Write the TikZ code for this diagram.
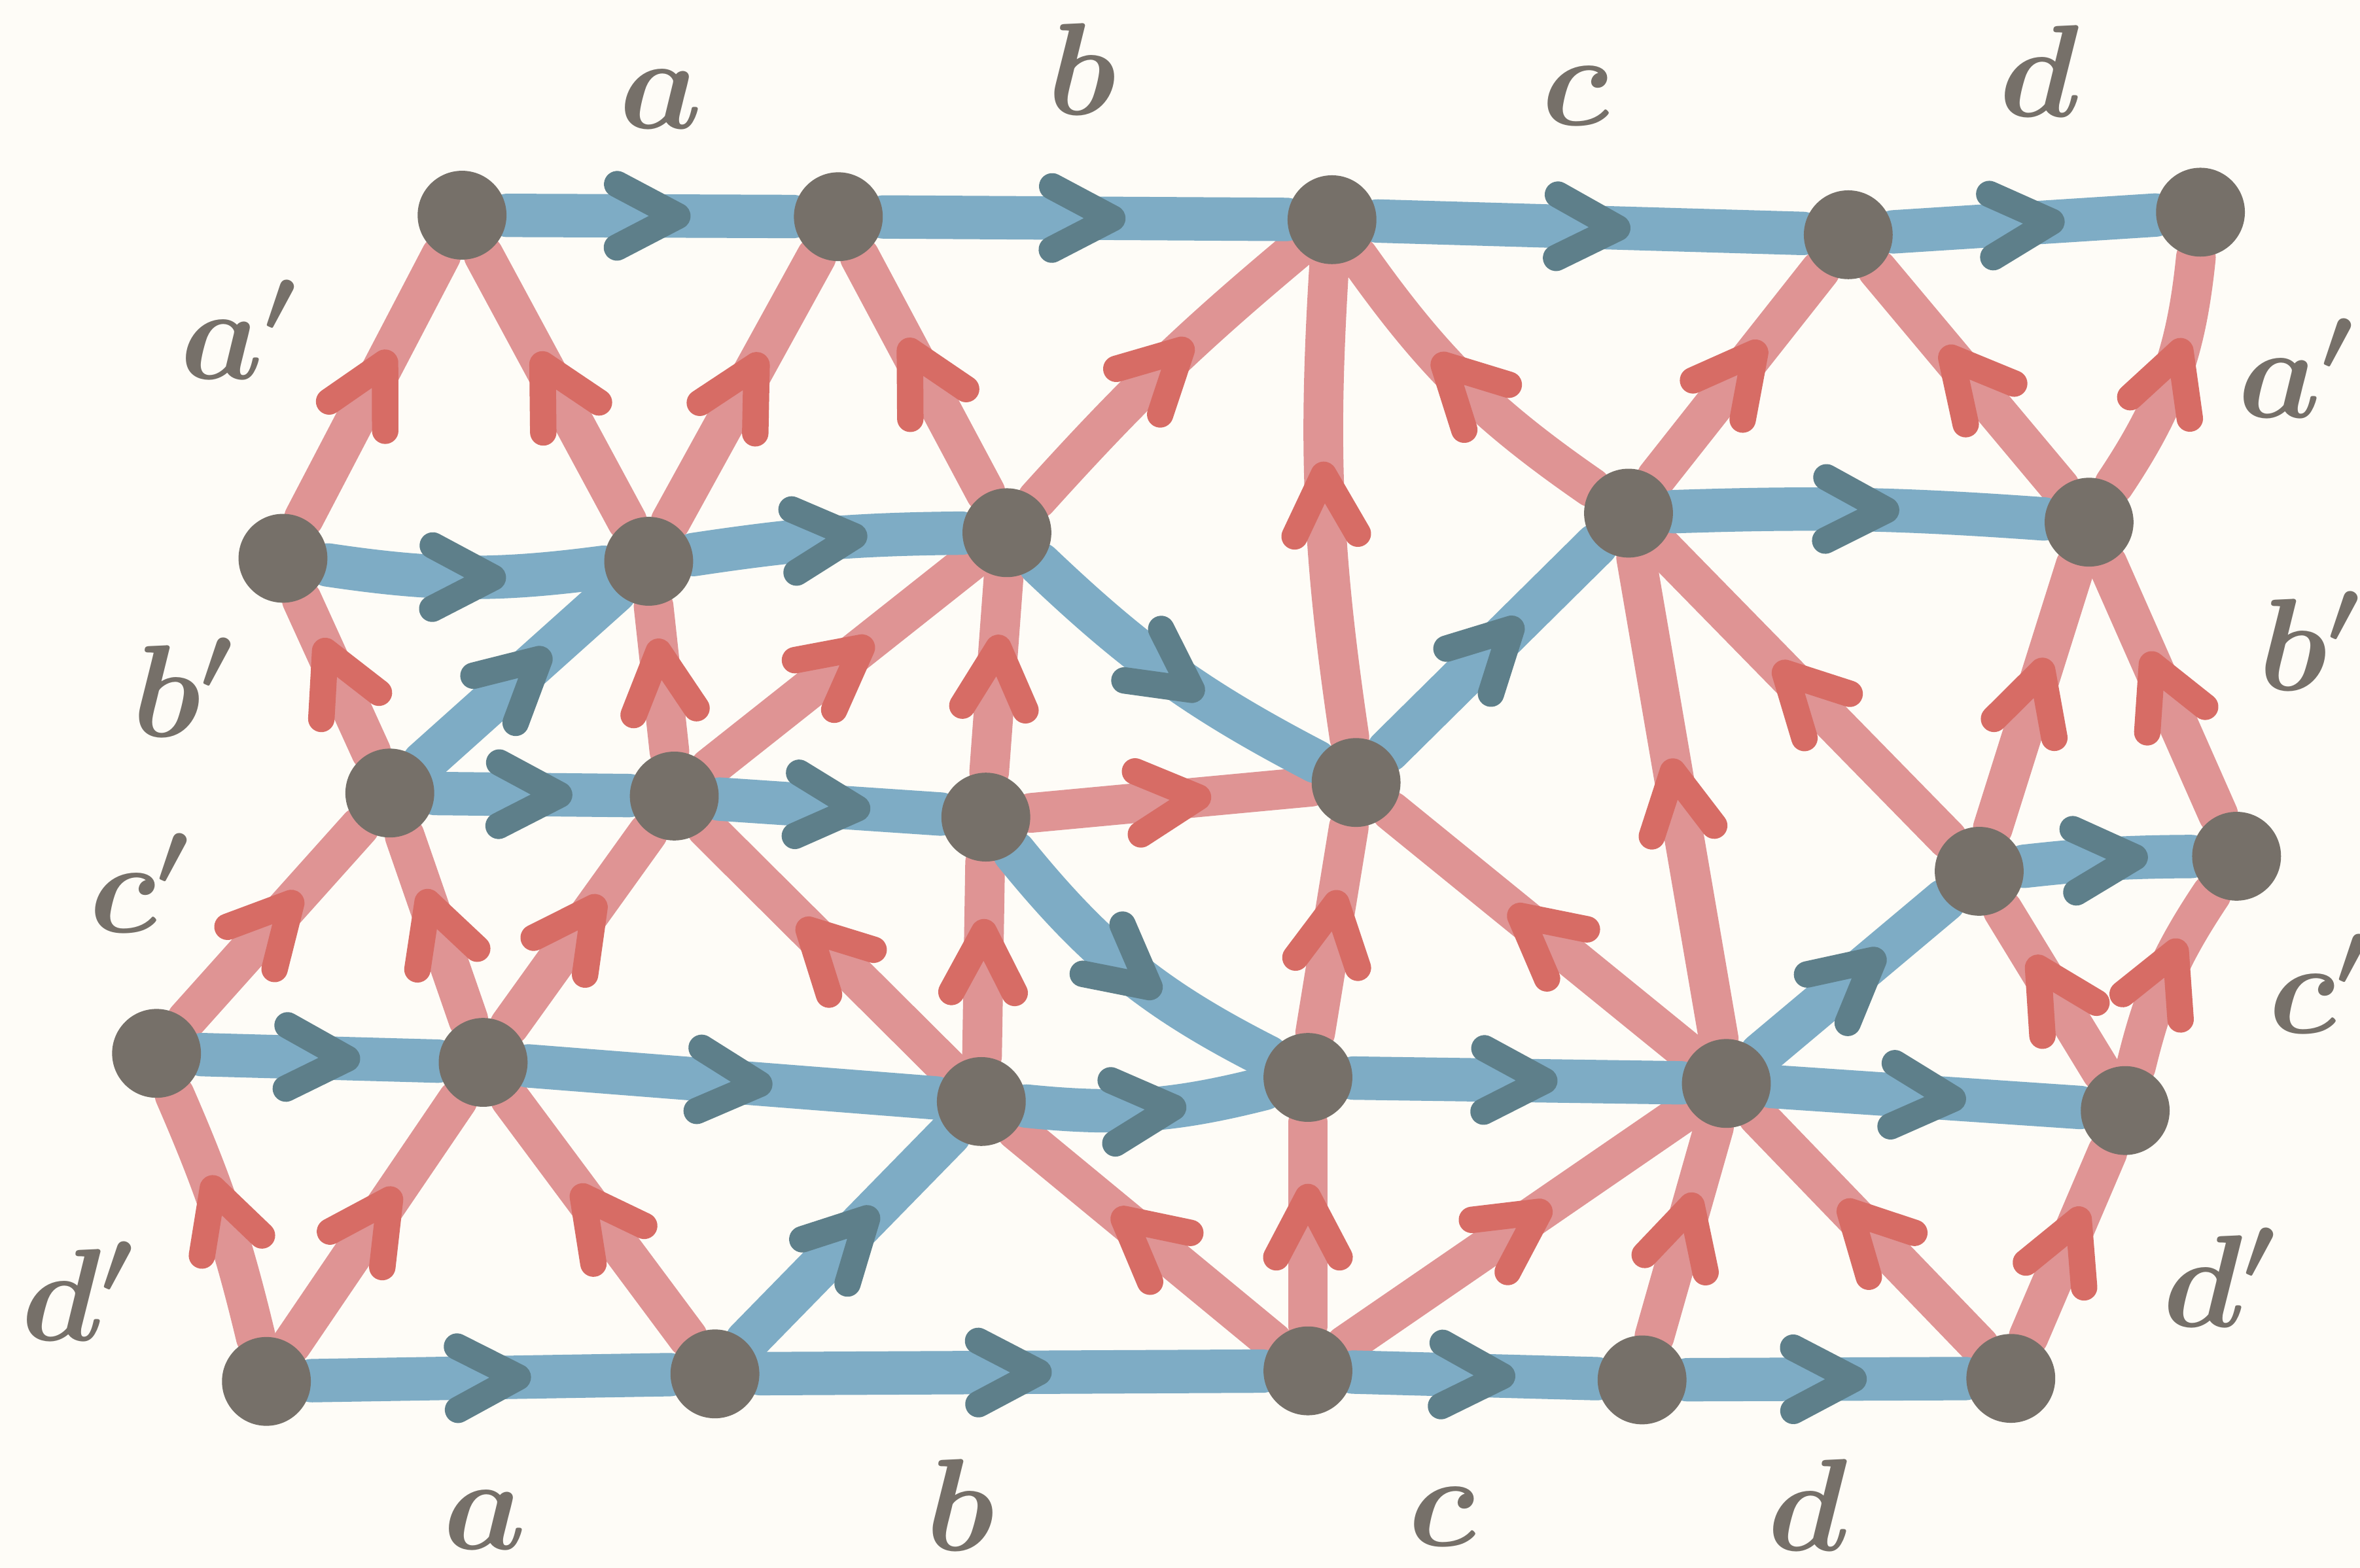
\documentclass[tikz,border=0pt]{standalone}
\usepackage{amsmath,amssymb,bm}
\usetikzlibrary{decorations.markings}

\definecolor{paper}{HTML}{FEFCF7}
\definecolor{bedge}{HTML}{7EACC5}
\definecolor{barrow}{HTML}{5E7F8A}
\definecolor{redge}{HTML}{DF9494}
\definecolor{rarrow}{HTML}{D76C65}
\definecolor{dotgray}{HTML}{767069}

\pgfdeclarelayer{paperlayer}
\pgfdeclarelayer{edges}
\pgfsetlayers{paperlayer,edges,main}

\tikzset{
  dot/.style={circle,fill=dotgray,minimum size=5.9mm,inner sep=0pt},
  lab/.style={text=dotgray,inner sep=0pt,font=\fontsize{25}{30}\selectfont},
  chevron/.style={postaction={decorate,decoration={markings,
      mark=at position 0.5 with {\draw[#1,line width=5pt,line cap=round,line join=round]
        (-2.2mm,2.1mm) -- (1.8mm,0mm) -- (-2.2mm,-2.1mm);}}}},
  blueedge/.style={draw=bedge,line width=8.2pt,line cap=round,chevron=barrow},
  rededge/.style={draw=redge,line width=7.5pt,line cap=round,chevron=rarrow},
}

\begin{document}
\begin{tikzpicture}[x=0.01cm,y=-0.01cm]
  \begin{pgfonlayer}{paperlayer}
    \fill[paper] (0,0) rectangle (1568,1042);
  \end{pgfonlayer}
  \useasboundingbox (0,0) rectangle (1568,1042);

  % vertices, row by row
  \foreach \n/\x/\y in {A1/307/143, A2/557/144, A3/885/146, A4/1228/156, A5/1462/141,
                        B1/188/371, B2/431/373, B3/669/354, B4/1082/341, B5/1388/347,
                        C1/259/527, C2/448/529, C3/655/543, C4/901/520, C5/1315/579, C6/1486/569,
                        D1/104/700, D2/321/706, D3/652/732, D4/869/716, D5/1147/720, D6/1412/738,
                        E1/177/918, E2/475/913, E3/869/911, E4/1091/917, E5/1336/916}
    \node[dot] (\n) at (\x,\y) {};

  \begin{pgfonlayer}{edges}
  % red edges (source/target/bend)
  \foreach \s/\t/\b in {B1/A1/0, B2/A1/0, B2/A2/0, B3/A2/0, B3/A3/4, C4/A3/6, B4/A3/10,
                        B4/A4/0, B5/A4/0, B5/A5/-14,
                        C1/B1/0, C2/B2/0, C2/B3/0, C3/B3/0, C3/C4/0, C5/B4/0, C5/B5/0, C6/B5/0,
                        D1/C1/0, D2/C1/0, D2/C2/0, D3/C2/0, D3/C3/0, D4/C4/0, D5/C4/0, D5/B4/0,
                        D6/C5/0, D6/C6/10,
                        E1/D1/-5, E1/D2/0, E2/D2/0, E3/D3/0, E3/D4/0, E3/D5/0, E4/D5/0, E5/D5/0, E5/D6/0}
    \path[rededge] (\s) to[bend left=\b] (\t);

  % blue edges
  \foreach \s/\t/\b in {A1/A2/0, A2/A3/0, A3/A4/0, A4/A5/0,
                        B1/B2/-8, B2/B3/4, B3/C4/-8, C4/B4/0, B4/B5/3,
                        C1/B2/0, C1/C2/0, C2/C3/0, C3/D4/-12, C5/C6/3,
                        D1/D2/0, D2/D3/0, D3/D4/-10, D4/D5/0, D5/D6/0, D5/C5/0,
                        E1/E2/0, E2/E3/0, E3/E4/0, E4/E5/0, E2/D3/0}
    \path[blueedge] (\s) to[bend left=\b] (\t);
  \end{pgfonlayer}

  % side labels
  \foreach \n/\x/\y/\t in {la/439/66/a, lb/719/46/b, lc/1047/64/c, ld/1355/47/d,
                           ma/322/1010/a, mb/638/1000/b, mc/958/1008/c, md/1201/1000/d}
    \node[lab] (\n) at (\x,\y) {$\bm{\t}$};
  \foreach \n/\x/\y/\t in {pa/159/219/a, pb/122/457/b, pc/93/587/c, pd/52/858/d,
                           qa/1526/245/a, qb/1535/426/b, qc/1541/654/c, qd/1475/849/d}
    \node[lab] (\n) at (\x,\y) {$\bm{\t'}$};
\end{tikzpicture}
\end{document}
